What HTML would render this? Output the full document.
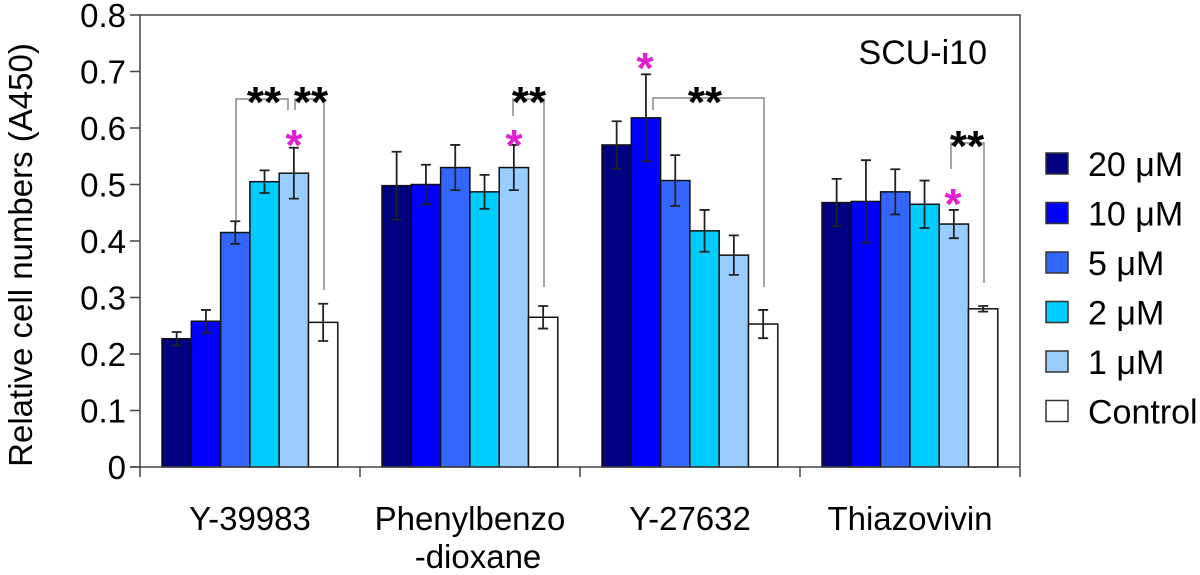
<!DOCTYPE html>
<html><head><meta charset="utf-8"><style>
body{margin:0;background:#fff;}
svg text{font-family:"Liberation Sans",Arial,sans-serif;}
</style></head><body>
<svg width="1200" height="570" viewBox="0 0 1200 570">
<g id="root"></g>
</svg>
<script>
const categories=["Y-39983","Phenylbenzo|-dioxane","Y-27632","Thiazovivin"];
const seriesNames=["20 μM","10 μM","5 μM","2 μM","1 μM","Control"];
const seriesColors=["#000080","#0000ff","#3366ff","#00ccff","#99ccff","#ffffff"];
const values=[
 [0.227,0.258,0.415,0.505,0.520,0.256],
 [0.498,0.500,0.530,0.487,0.530,0.265],
 [0.570,0.618,0.507,0.418,0.375,0.253],
 [0.468,0.470,0.487,0.465,0.430,0.280]];
const errors=[
 [0.012,0.020,0.020,0.020,0.045,0.033],
 [0.060,0.035,0.040,0.030,0.040,0.020],
 [0.042,0.077,0.045,0.037,0.035,0.025],
 [0.042,0.073,0.040,0.042,0.025,0.005]];
const yTicks=[0,0.1,0.2,0.3,0.4,0.5,0.6,0.7,0.8];
const yTickLabels=["0","0.1","0.2","0.3","0.4","0.5","0.6","0.7","0.8"];
const svg=document.getElementById('root');
const NS="http://www.w3.org/2000/svg";
const X0=140,X1=1020,Y0=467,Y1=15,GW=(X1-X0)/categories.length,BW=29.3,PAD=22;
const y=v=>Y0-(v/0.8)*(Y0-Y1);
const bx=(g,i)=>X0+g*GW+PAD+i*BW;
function el(t,a,p){const e=document.createElementNS(NS,t);for(const k in a)e.setAttribute(k,a[k]);(p||svg).appendChild(e);return e;}
const frame=el('path',{d:`M${X0} ${Y1}H${X1}V${Y0}`,fill:'none',stroke:'#444','stroke-width':1.5});

// brackets (drawn under bars)
function br(x1,yb1,x2,yb2,yt){const p=el('path',{d:`M${x1} ${yb1}V${yt}H${x2}V${yb2}`,fill:'none',stroke:'#888','stroke-width':1.5});
 }
br(236,225,288,110,99);br(295,110,324,290,99);
br(513,116,544,287,99);
br(653,110,764,287,98);
br(951,169,984,283,143);
values.forEach((row,g)=>row.forEach((v,i)=>{
 const r=el('rect',{x:bx(g,i),y:y(v),width:BW,height:Y0-y(v),fill:seriesColors[i],stroke:'#111','stroke-width':1.5});
 
 const cx=bx(g,i)+BW/2,e=errors[g][i];
 const eb=el('path',{d:`M${cx} ${y(v+e)}V${y(v-e)}M${cx-5} ${y(v+e)}H${cx+5}M${cx-5} ${y(v-e)}H${cx+5}`,stroke:'#222','stroke-width':1.8,fill:'none'});
 
}));
const ax=el('path',{d:`M${X0} ${Y1}V${Y0}M${X0-10} ${Y0}H${X1}`,stroke:'#444','stroke-width':1.5,fill:'none'});

yTicks.forEach((t,k)=>{
 el('line',{x1:X0-10,x2:X0,y1:y(t),y2:y(t),stroke:'#444','stroke-width':1.5});
 const tx=el('text',{x:126,y:y(t)+12,'font-size':33,'text-anchor':'end',fill:'#000'});tx.textContent=yTickLabels[k];
 
});
for(let g=0;g<=categories.length;g++){el('line',{x1:X0+g*GW,x2:X0+g*GW,y1:Y0,y2:Y0+10,stroke:'#444','stroke-width':1.5});}
categories.forEach((c,g)=>{
 const parts=c.split('|');
 parts.forEach((p,j)=>{const t=el('text',{x:X0+g*GW+GW/2+(j?8:0),y:530+j*38,'font-size':33,'text-anchor':'middle'});t.textContent=p;
 });
});
const yt=el('text',{x:0,y:0,'font-size':33,'text-anchor':'middle',transform:`translate(32 ${(Y0+Y1)/2+14}) rotate(-90)`});
yt.textContent="Relative cell numbers (A450)";
const tl=el('text',{x:987,y:64,'font-size':34,'text-anchor':'end'});tl.textContent="SCU-i10";

function st(x,yy,txt,col){const t=el('text',{x:x,y:yy,'font-size':44,'font-weight':'bold','text-anchor':'middle',fill:col});t.textContent=txt;
 }
st(264,117,"**","#000");st(311,117,"**","#000");st(294,160,"*","#e020d0");
st(529,117,"**","#000");st(514,160,"*","#e020d0");
st(705,117,"**","#000");st(645,83,"*","#e020d0");
st(967,161,"**","#000");st(953,219,"*","#e020d0");
seriesNames.forEach((n,i)=>{
 const yy=153+i*49.5;
 const r=el('rect',{x:1046,y:yy,width:22,height:21,fill:seriesColors[i],stroke:'#333','stroke-width':1.5});
 
 const t=el('text',{x:1088,y:yy+23,'font-size':34});t.textContent=n;
 
});
</script>
</body></html>
